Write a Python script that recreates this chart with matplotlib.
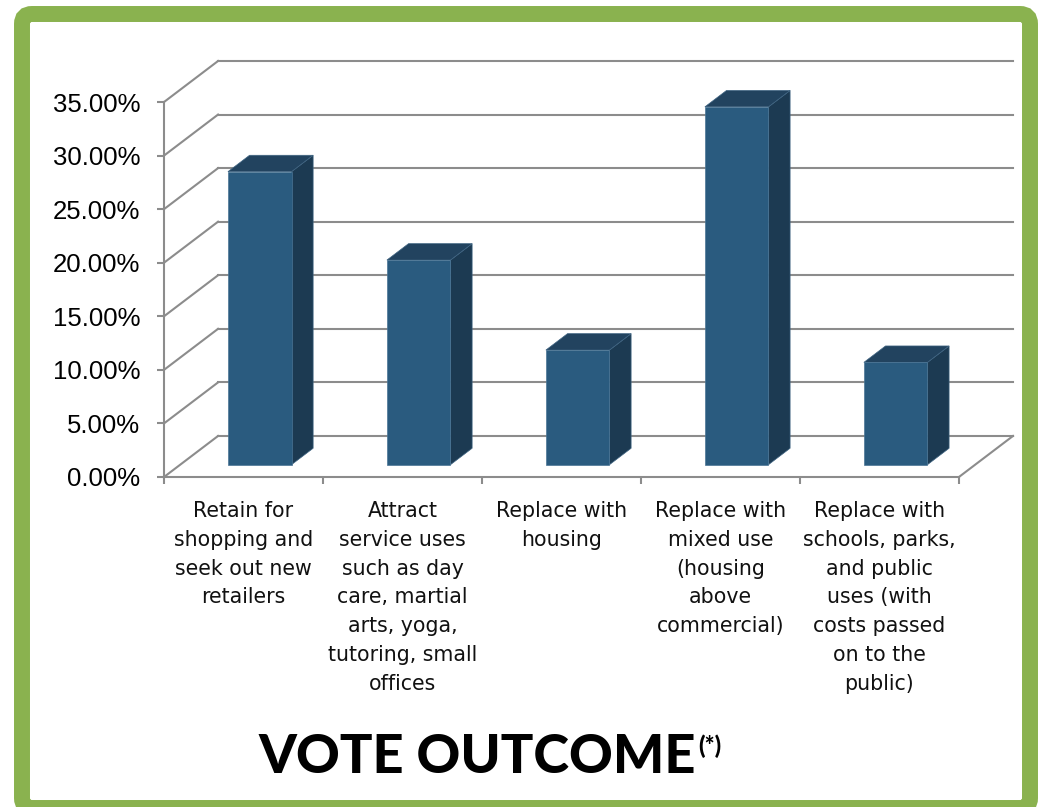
import numpy as np
import matplotlib
matplotlib.use("Agg")
import matplotlib.pyplot as plt
from matplotlib.patches import Polygon, FancyBboxPatch

# vote shares per option (%)
options = [
    "Retain for\nshopping and\nseek out new\nretailers",
    "Attract\nservice uses\nsuch as day\ncare, martial\narts, yoga,\ntutoring, small\noffices",
    "Replace with\nhousing",
    "Replace with\nmixed use\n(housing\nabove\ncommercial)",
    "Replace with\nschools, parks,\nand public\nuses (with\ncosts passed\non to the\npublic)",
]
shares = [27.35, 19.1, 10.7, 33.4, 9.55]
yticks = [0, 5, 10, 15, 20, 25, 30, 35]
ytick_labels = ["%.2f%%" % t for t in yticks]

# oblique depth offset of the 3d box (x in category units, y in %)
DX, DY = 0.34, 3.83
BAR_W = 0.40
D0, D1 = 0.30, 0.70

front_c = "#2A5B7F"
top_c = "#22435F"
side_c = "#1C3A52"
grid_c = "#8C8C8C"
green = "#8AB24F"

fig = plt.figure(figsize=(10.38, 8.07), dpi=100)

# frame around the whole slide
bg = fig.add_axes([0, 0, 1, 1])
bg.set_xlim(0, 1038)
bg.set_ylim(807, 0)
bg.axis("off")
bg.add_patch(FancyBboxPatch((22, 14), 1008, 794,
                            boxstyle="round,pad=0,rounding_size=10",
                            facecolor="white", edgecolor=green,
                            linewidth=11.5, clip_on=False))

ax = fig.add_axes([164 / 1038, (807 - 477) / 807,
                   (1013 - 164) / 1038, (477 - 61) / 807])
ax.set_xlim(0, 5 + DX)
ax.set_ylim(0, 35 + DY)
ax.patch.set_visible(False)

# walls
for t in yticks:
    ax.plot([0, DX], [t, t + DY], color=grid_c, lw=1.5, zorder=1,
            clip_on=False)
    ax.plot([DX, 5 + DX], [t + DY, t + DY], color=grid_c, lw=1.5, zorder=1,
            clip_on=False)
ax.plot([5, 5 + DX], [0, DY], color=grid_c, lw=1.5, zorder=1, clip_on=False)

# bars
n = len(shares)
for i, v in enumerate(shares):
    c = i + 0.5
    xl = c - BAR_W / 2
    xr = c + BAR_W / 2
    front = [(xl + D0 * DX, D0 * DY), (xr + D0 * DX, D0 * DY),
             (xr + D0 * DX, v + D0 * DY), (xl + D0 * DX, v + D0 * DY)]
    side = [(xr + D0 * DX, D0 * DY), (xr + D1 * DX, D1 * DY),
            (xr + D1 * DX, v + D1 * DY), (xr + D0 * DX, v + D0 * DY)]
    top = [(xl + D0 * DX, v + D0 * DY), (xr + D0 * DX, v + D0 * DY),
           (xr + D1 * DX, v + D1 * DY), (xl + D1 * DX, v + D1 * DY)]
    ax.add_patch(Polygon(side, closed=True, facecolor=side_c,
                         edgecolor="#3F6482", lw=0.5, zorder=3))
    ax.add_patch(Polygon(top, closed=True, facecolor=top_c,
                         edgecolor="#3F6482", lw=0.5, zorder=3))
    ax.add_patch(Polygon(front, closed=True, facecolor=front_c,
                         edgecolor="#4A7595", lw=0.5, zorder=4))

for s in ["top", "right"]:
    ax.spines[s].set_visible(False)
ax.spines["left"].set_bounds(0, 35)
ax.spines["bottom"].set_bounds(0, 5)
for s in ["left", "bottom"]:
    ax.spines[s].set_color(grid_c)
    ax.spines[s].set_linewidth(1.5)
    ax.spines[s].set_zorder(2)

ax.set_yticks(yticks)
ax.set_yticklabels(ytick_labels, fontsize=18.5, family="Liberation Sans")
ax.set_xticks(np.arange(n + 1))
ax.set_xticklabels([])
ax.tick_params(axis="both", colors=grid_c, length=5, width=1.5,
               labelcolor="black")
ax.tick_params(axis="y", pad=12)

for i, lab in enumerate(options):
    ax.annotate(lab, xy=(i + 0.5, 0), xycoords="data",
                xytext=(0, -17), textcoords="offset points",
                ha="center", va="top", fontsize=14.8, family="DejaVu Sans",
                linespacing=1.56, color="#111111", annotation_clip=False)

title = fig.text(258 / 1038, (807 - 773) / 807, "VOTE OUTCOME",
                 fontsize=39, fontweight="black", family="Lato",
                 ha="left", va="baseline")
fig.canvas.draw()
bb = title.get_window_extent()
fig.text((bb.x1 + 3) / 1038, (807 - 754) / 807, "(*)", fontsize=17,
         fontweight="black", family="Lato", ha="left", va="baseline")

fig.savefig("out.png", dpi=100)
